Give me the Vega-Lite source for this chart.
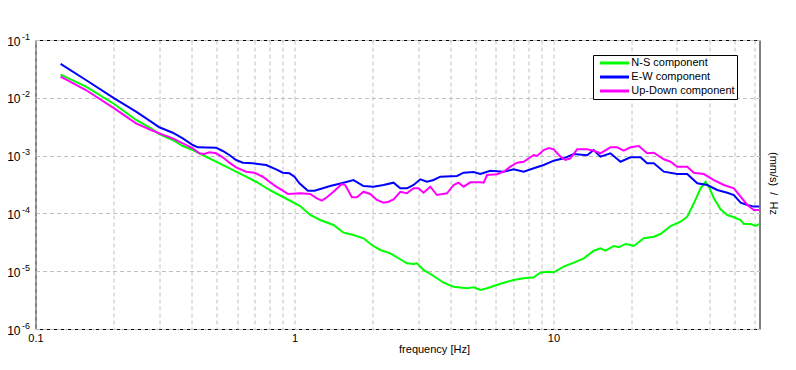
{
  "$schema": "https://vega.github.io/schema/vega-lite/v6.json",
  "width": 724,
  "height": 289,
  "autosize": {"type": "none"},
  "padding": {"left": 35.5, "top": 40, "right": 36.5, "bottom": 41},
  "background": "white",
  "config": {
    "view": {"stroke": "black", "strokeWidth": 1},
    "axis": {
      "labelFont": "Liberation Sans",
      "titleFont": "Liberation Sans",
      "labelColor": "black",
      "titleColor": "black",
      "domain": false,
      "ticks": false,
      "tickSize": 0,
      "gridColor": "#c0c0c0",
      "gridDash": [4, 3],
      "gridWidth": 1,
      "titleFontWeight": "normal"
    },
    "legend": {"labelFont": "Liberation Sans"}
  },
  "datasets": {
    "psd": [
      {"component": "N-S component", "frequency": 0.125, "value": 0.02511},
      {"component": "N-S component", "frequency": 0.1566, "value": 0.01556},
      {"component": "N-S component", "frequency": 0.2014, "value": 0.00781},
      {"component": "N-S component", "frequency": 0.2445, "value": 0.00413},
      {"component": "N-S component", "frequency": 0.2793, "value": 0.00297},
      {"component": "N-S component", "frequency": 0.3008, "value": 0.002364},
      {"component": "N-S component", "frequency": 0.3388, "value": 0.001862},
      {"component": "N-S component", "frequency": 0.3704, "value": 0.001466},
      {"component": "N-S component", "frequency": 0.4048, "value": 0.00125},
      {"component": "N-S component", "frequency": 0.4425, "value": 0.001024},
      {"component": "N-S component", "frequency": 0.4981, "value": 0.000784},
      {"component": "N-S component", "frequency": 0.5445, "value": 0.000643},
      {"component": "N-S component", "frequency": 0.5951, "value": 0.000527},
      {"component": "N-S component", "frequency": 0.6507, "value": 0.000431},
      {"component": "N-S component", "frequency": 0.7112, "value": 0.000353},
      {"component": "N-S component", "frequency": 0.8006, "value": 0.000254},
      {"component": "N-S component", "frequency": 0.8883, "value": 0.0002},
      {"component": "N-S component", "frequency": 1.052, "value": 0.000134},
      {"component": "N-S component", "frequency": 1.15, "value": 0.0000938},
      {"component": "N-S component", "frequency": 1.257, "value": 0.0000769},
      {"component": "N-S component", "frequency": 1.415, "value": 0.000063},
      {"component": "N-S component", "frequency": 1.547, "value": 0.0000464},
      {"component": "N-S component", "frequency": 1.691, "value": 0.0000423},
      {"component": "N-S component", "frequency": 1.848, "value": 0.0000371},
      {"component": "N-S component", "frequency": 1.991, "value": 0.0000284},
      {"component": "N-S component", "frequency": 2.145, "value": 0.0000233},
      {"component": "N-S component", "frequency": 2.344, "value": 0.0000204},
      {"component": "N-S component", "frequency": 2.563, "value": 0.0000161},
      {"component": "N-S component", "frequency": 2.719, "value": 0.0000137},
      {"component": "N-S component", "frequency": 2.884, "value": 0.0000133},
      {"component": "N-S component", "frequency": 2.972, "value": 0.0000137},
      {"component": "N-S component", "frequency": 3.152, "value": 0.0000105},
      {"component": "N-S component", "frequency": 3.446, "value": 0.00000826},
      {"component": "N-S component", "frequency": 3.767, "value": 0.00000632},
      {"component": "N-S component", "frequency": 4.117, "value": 0.00000539},
      {"component": "N-S component", "frequency": 4.638, "value": 0.00000506},
      {"component": "N-S component", "frequency": 4.92, "value": 0.00000526},
      {"component": "N-S component", "frequency": 5.222, "value": 0.00000473},
      {"component": "N-S component", "frequency": 5.542, "value": 0.00000506},
      {"component": "N-S component", "frequency": 5.877, "value": 0.00000555},
      {"component": "N-S component", "frequency": 6.426, "value": 0.00000632},
      {"component": "N-S component", "frequency": 7.024, "value": 0.00000704},
      {"component": "N-S component", "frequency": 7.679, "value": 0.00000754},
      {"component": "N-S component", "frequency": 8.394, "value": 0.00000784},
      {"component": "N-S component", "frequency": 8.907, "value": 0.00000942},
      {"component": "N-S component", "frequency": 9.454, "value": 0.0000098},
      {"component": "N-S component", "frequency": 10.03, "value": 0.00000957},
      {"component": "N-S component", "frequency": 10.96, "value": 0.00001197},
      {"component": "N-S component", "frequency": 11.98, "value": 0.00001403},
      {"component": "N-S component", "frequency": 13.1, "value": 0.0000167},
      {"component": "N-S component", "frequency": 14.31, "value": 0.0000226},
      {"component": "N-S component", "frequency": 15.19, "value": 0.0000249},
      {"component": "N-S component", "frequency": 15.89, "value": 0.0000226},
      {"component": "N-S component", "frequency": 17.11, "value": 0.0000273},
      {"component": "N-S component", "frequency": 17.88, "value": 0.0000259},
      {"component": "N-S component", "frequency": 18.98, "value": 0.0000296},
      {"component": "N-S component", "frequency": 19.84, "value": 0.0000284},
      {"component": "N-S component", "frequency": 20.44, "value": 0.0000273},
      {"component": "N-S component", "frequency": 22.34, "value": 0.0000371},
      {"component": "N-S component", "frequency": 24.42, "value": 0.0000395},
      {"component": "N-S component", "frequency": 25.92, "value": 0.000044},
      {"component": "N-S component", "frequency": 28.34, "value": 0.0000605},
      {"component": "N-S component", "frequency": 30.97, "value": 0.0000719},
      {"component": "N-S component", "frequency": 32.87, "value": 0.0000877},
      {"component": "N-S component", "frequency": 34.86, "value": 0.0001495},
      {"component": "N-S component", "frequency": 37.01, "value": 0.000272},
      {"component": "N-S component", "frequency": 38.7, "value": 0.000353},
      {"component": "N-S component", "frequency": 39.84, "value": 0.00029},
      {"component": "N-S component", "frequency": 41.65, "value": 0.000182},
      {"component": "N-S component", "frequency": 44.21, "value": 0.0001177},
      {"component": "N-S component", "frequency": 46.93, "value": 0.0000938},
      {"component": "N-S component", "frequency": 49.77, "value": 0.0000856},
      {"component": "N-S component", "frequency": 52.83, "value": 0.0000769},
      {"component": "N-S component", "frequency": 54.4, "value": 0.0000656},
      {"component": "N-S component", "frequency": 57.74, "value": 0.0000656},
      {"component": "N-S component", "frequency": 60.37, "value": 0.0000605},
      {"component": "N-S component", "frequency": 62.5, "value": 0.0000656},

      {"component": "E-W component", "frequency": 0.125, "value": 0.0385},
      {"component": "E-W component", "frequency": 0.1566, "value": 0.0203},
      {"component": "E-W component", "frequency": 0.2014, "value": 0.0098},
      {"component": "E-W component", "frequency": 0.2445, "value": 0.00575},
      {"component": "E-W component", "frequency": 0.2793, "value": 0.00386},
      {"component": "E-W component", "frequency": 0.3008, "value": 0.00309},
      {"component": "E-W component", "frequency": 0.3388, "value": 0.00249},
      {"component": "E-W component", "frequency": 0.3704, "value": 0.00199},
      {"component": "E-W component", "frequency": 0.4048, "value": 0.001525},
      {"component": "E-W component", "frequency": 0.4232, "value": 0.001392},
      {"component": "E-W component", "frequency": 0.4981, "value": 0.00137},
      {"component": "E-W component", "frequency": 0.5288, "value": 0.001201},
      {"component": "E-W component", "frequency": 0.5607, "value": 0.001024},
      {"component": "E-W component", "frequency": 0.5951, "value": 0.000839},
      {"component": "E-W component", "frequency": 0.6318, "value": 0.000754},
      {"component": "E-W component", "frequency": 0.6906, "value": 0.000736},
      {"component": "E-W component", "frequency": 0.7774, "value": 0.000688},
      {"component": "E-W component", "frequency": 0.8497, "value": 0.000579},
      {"component": "E-W component", "frequency": 0.9018, "value": 0.000506},
      {"component": "E-W component", "frequency": 0.9565, "value": 0.000494},
      {"component": "E-W component", "frequency": 1.0, "value": 0.000431},
      {"component": "E-W component", "frequency": 1.0455, "value": 0.000332},
      {"component": "E-W component", "frequency": 1.127, "value": 0.000247},
      {"component": "E-W component", "frequency": 1.195, "value": 0.000247},
      {"component": "E-W component", "frequency": 1.221, "value": 0.000254},
      {"component": "E-W component", "frequency": 1.287, "value": 0.000272},
      {"component": "E-W component", "frequency": 1.374, "value": 0.000298},
      {"component": "E-W component", "frequency": 1.547, "value": 0.00034},
      {"component": "E-W component", "frequency": 1.691, "value": 0.000378},
      {"component": "E-W component", "frequency": 1.848, "value": 0.000298},
      {"component": "E-W component", "frequency": 2.02, "value": 0.00029},
      {"component": "E-W component", "frequency": 2.208, "value": 0.00031},
      {"component": "E-W component", "frequency": 2.413, "value": 0.00034},
      {"component": "E-W component", "frequency": 2.563, "value": 0.000272},
      {"component": "E-W component", "frequency": 2.719, "value": 0.000272},
      {"component": "E-W component", "frequency": 2.884, "value": 0.00031},
      {"component": "E-W component", "frequency": 3.062, "value": 0.000389},
      {"component": "E-W component", "frequency": 3.25, "value": 0.000353},
      {"component": "E-W component", "frequency": 3.446, "value": 0.000378},
      {"component": "E-W component", "frequency": 3.658, "value": 0.000431},
      {"component": "E-W component", "frequency": 4.243, "value": 0.000444},
      {"component": "E-W component", "frequency": 4.501, "value": 0.000506},
      {"component": "E-W component", "frequency": 4.92, "value": 0.00052},
      {"component": "E-W component", "frequency": 5.222, "value": 0.00048},
      {"component": "E-W component", "frequency": 5.707, "value": 0.000548},
      {"component": "E-W component", "frequency": 6.426, "value": 0.000527},
      {"component": "E-W component", "frequency": 7.024, "value": 0.000579},
      {"component": "E-W component", "frequency": 7.679, "value": 0.000527},
      {"component": "E-W component", "frequency": 8.394, "value": 0.000603},
      {"component": "E-W component", "frequency": 9.174, "value": 0.000688},
      {"component": "E-W component", "frequency": 10.03, "value": 0.000816},
      {"component": "E-W component", "frequency": 10.96, "value": 0.000898},
      {"component": "E-W component", "frequency": 11.98, "value": 0.001066},
      {"component": "E-W component", "frequency": 13.5, "value": 0.001012},
      {"component": "E-W component", "frequency": 14.31, "value": 0.00125},
      {"component": "E-W component", "frequency": 15.19, "value": 0.000957},
      {"component": "E-W component", "frequency": 16.61, "value": 0.001096},
      {"component": "E-W component", "frequency": 18.16, "value": 0.000784},
      {"component": "E-W component", "frequency": 19.84, "value": 0.000935},
      {"component": "E-W component", "frequency": 21.69, "value": 0.000935},
      {"component": "E-W component", "frequency": 23.02, "value": 0.000736},
      {"component": "E-W component", "frequency": 24.42, "value": 0.000736},
      {"component": "E-W component", "frequency": 26.69, "value": 0.000527},
      {"component": "E-W component", "frequency": 30.08, "value": 0.00048},
      {"component": "E-W component", "frequency": 32.87, "value": 0.00048},
      {"component": "E-W component", "frequency": 35.94, "value": 0.000332},
      {"component": "E-W component", "frequency": 39.28, "value": 0.00031},
      {"component": "E-W component", "frequency": 42.94, "value": 0.000254},
      {"component": "E-W component", "frequency": 46.93, "value": 0.000228},
      {"component": "E-W component", "frequency": 49.77, "value": 0.000208},
      {"component": "E-W component", "frequency": 52.83, "value": 0.000153},
      {"component": "E-W component", "frequency": 56.08, "value": 0.00014},
      {"component": "E-W component", "frequency": 59.47, "value": 0.000131},
      {"component": "E-W component", "frequency": 62.5, "value": 0.000131},

      {"component": "Up-Down component", "frequency": 0.125, "value": 0.02317},
      {"component": "Up-Down component", "frequency": 0.1566, "value": 0.01364},
      {"component": "Up-Down component", "frequency": 0.2014, "value": 0.00658},
      {"component": "Up-Down component", "frequency": 0.2445, "value": 0.00362},
      {"component": "Up-Down component", "frequency": 0.2793, "value": 0.00277},
      {"component": "Up-Down component", "frequency": 0.3008, "value": 0.00243},
      {"component": "Up-Down component", "frequency": 0.3388, "value": 0.00199},
      {"component": "Up-Down component", "frequency": 0.3704, "value": 0.001633},
      {"component": "Up-Down component", "frequency": 0.4048, "value": 0.001337},
      {"component": "Up-Down component", "frequency": 0.4293, "value": 0.001096},
      {"component": "Up-Down component", "frequency": 0.4489, "value": 0.001066},
      {"component": "Up-Down component", "frequency": 0.4694, "value": 0.00114},
      {"component": "Up-Down component", "frequency": 0.4981, "value": 0.001096},
      {"component": "Up-Down component", "frequency": 0.5288, "value": 0.000935},
      {"component": "Up-Down component", "frequency": 0.5607, "value": 0.000754},
      {"component": "Up-Down component", "frequency": 0.5951, "value": 0.000627},
      {"component": "Up-Down component", "frequency": 0.6507, "value": 0.000527},
      {"component": "Up-Down component", "frequency": 0.7005, "value": 0.000506},
      {"component": "Up-Down component", "frequency": 0.7546, "value": 0.000431},
      {"component": "Up-Down component", "frequency": 0.8006, "value": 0.000353},
      {"component": "Up-Down component", "frequency": 0.8497, "value": 0.00029},
      {"component": "Up-Down component", "frequency": 0.9018, "value": 0.000247},
      {"component": "Up-Down component", "frequency": 0.943, "value": 0.000217},
      {"component": "Up-Down component", "frequency": 1.052, "value": 0.000223},
      {"component": "Up-Down component", "frequency": 1.15, "value": 0.000217},
      {"component": "Up-Down component", "frequency": 1.221, "value": 0.000182},
      {"component": "Up-Down component", "frequency": 1.276, "value": 0.000166},
      {"component": "Up-Down component", "frequency": 1.334, "value": 0.00019},
      {"component": "Up-Down component", "frequency": 1.415, "value": 0.000237},
      {"component": "Up-Down component", "frequency": 1.525, "value": 0.000323},
      {"component": "Up-Down component", "frequency": 1.57, "value": 0.00031},
      {"component": "Up-Down component", "frequency": 1.667, "value": 0.00019},
      {"component": "Up-Down component", "frequency": 1.743, "value": 0.00019},
      {"component": "Up-Down component", "frequency": 1.848, "value": 0.000237},
      {"component": "Up-Down component", "frequency": 1.961, "value": 0.000217},
      {"component": "Up-Down component", "frequency": 2.082, "value": 0.000171},
      {"component": "Up-Down component", "frequency": 2.208, "value": 0.000153},
      {"component": "Up-Down component", "frequency": 2.309, "value": 0.000159},
      {"component": "Up-Down component", "frequency": 2.413, "value": 0.000175},
      {"component": "Up-Down component", "frequency": 2.563, "value": 0.000237},
      {"component": "Up-Down component", "frequency": 2.719, "value": 0.000223},
      {"component": "Up-Down component", "frequency": 2.884, "value": 0.000272},
      {"component": "Up-Down component", "frequency": 3.015, "value": 0.000272},
      {"component": "Up-Down component", "frequency": 3.152, "value": 0.000228},
      {"component": "Up-Down component", "frequency": 3.346, "value": 0.00029},
      {"component": "Up-Down component", "frequency": 3.551, "value": 0.000208},
      {"component": "Up-Down component", "frequency": 3.882, "value": 0.000223},
      {"component": "Up-Down component", "frequency": 4.117, "value": 0.00031},
      {"component": "Up-Down component", "frequency": 4.304, "value": 0.00034},
      {"component": "Up-Down component", "frequency": 4.501, "value": 0.00029},
      {"component": "Up-Down component", "frequency": 4.777, "value": 0.000345},
      {"component": "Up-Down component", "frequency": 5.222, "value": 0.000345},
      {"component": "Up-Down component", "frequency": 5.378, "value": 0.00034},
      {"component": "Up-Down component", "frequency": 5.542, "value": 0.000462},
      {"component": "Up-Down component", "frequency": 6.059, "value": 0.000475},
      {"component": "Up-Down component", "frequency": 6.426, "value": 0.000527},
      {"component": "Up-Down component", "frequency": 6.821, "value": 0.000643},
      {"component": "Up-Down component", "frequency": 7.24, "value": 0.000754},
      {"component": "Up-Down component", "frequency": 7.679, "value": 0.000784},
      {"component": "Up-Down component", "frequency": 8.149, "value": 0.000935},
      {"component": "Up-Down component", "frequency": 8.394, "value": 0.001024},
      {"component": "Up-Down component", "frequency": 8.65, "value": 0.000984},
      {"component": "Up-Down component", "frequency": 9.174, "value": 0.00125},
      {"component": "Up-Down component", "frequency": 9.59, "value": 0.001354},
      {"component": "Up-Down component", "frequency": 10.03, "value": 0.001285},
      {"component": "Up-Down component", "frequency": 10.64, "value": 0.000957},
      {"component": "Up-Down component", "frequency": 11.13, "value": 0.000839},
      {"component": "Up-Down component", "frequency": 11.63, "value": 0.000898},
      {"component": "Up-Down component", "frequency": 12.35, "value": 0.001285},
      {"component": "Up-Down component", "frequency": 13.5, "value": 0.001285},
      {"component": "Up-Down component", "frequency": 14.31, "value": 0.001216},
      {"component": "Up-Down component", "frequency": 15.19, "value": 0.001096},
      {"component": "Up-Down component", "frequency": 16.61, "value": 0.001392},
      {"component": "Up-Down component", "frequency": 17.63, "value": 0.001392},
      {"component": "Up-Down component", "frequency": 18.7, "value": 0.001216},
      {"component": "Up-Down component", "frequency": 19.84, "value": 0.001392},
      {"component": "Up-Down component", "frequency": 21.37, "value": 0.001466},
      {"component": "Up-Down component", "frequency": 23.02, "value": 0.001096},
      {"component": "Up-Down component", "frequency": 24.42, "value": 0.001123},
      {"component": "Up-Down component", "frequency": 26.69, "value": 0.000863},
      {"component": "Up-Down component", "frequency": 28.34, "value": 0.000784},
      {"component": "Up-Down component", "frequency": 30.08, "value": 0.000643},
      {"component": "Up-Down component", "frequency": 32.87, "value": 0.000643},
      {"component": "Up-Down component", "frequency": 34.86, "value": 0.000506},
      {"component": "Up-Down component", "frequency": 38.11, "value": 0.00048},
      {"component": "Up-Down component", "frequency": 41.65, "value": 0.000378},
      {"component": "Up-Down component", "frequency": 45.53, "value": 0.00031},
      {"component": "Up-Down component", "frequency": 49.77, "value": 0.000272},
      {"component": "Up-Down component", "frequency": 52.83, "value": 0.000195},
      {"component": "Up-Down component", "frequency": 56.08, "value": 0.00014},
      {"component": "Up-Down component", "frequency": 59.47, "value": 0.0001145},
      {"component": "Up-Down component", "frequency": 62.5, "value": 0.0001145}
    ],
    "exponents": [
      {"value": 0.1, "e": "-1"},
      {"value": 0.01, "e": "-2"},
      {"value": 0.001, "e": "-3"},
      {"value": 0.0001, "e": "-4"},
      {"value": 0.00001, "e": "-5"},
      {"value": 0.000001, "e": "-6"}
    ]
  },
  "layer": [
    {
      "data": {"name": "psd"},
      "mark": {"type": "line", "strokeWidth": 2, "clip": true},
      "encoding": {
        "x": {
          "field": "frequency",
          "type": "quantitative",
          "scale": {"type": "log", "domain": [0.1, 62.5], "nice": false},
          "axis": {
            "values": [0.1, 0.2, 0.3, 0.4, 0.5, 0.6, 0.7, 0.8, 0.9, 1, 2, 3, 4, 5, 6, 7, 8, 9, 10, 20, 30, 40, 50, 60],
            "labelExpr": "datum.value == 0.1 ? '0.1' : datum.value == 1 ? '1' : datum.value == 10 ? '10' : ''",
            "labelFontSize": 11,
            "labelPadding": 3,
            "labelFlush": false,
            "labelOverlap": false,
            "labelBound": false,
            "title": "frequency [Hz]",
            "titleFontSize": 11,
            "titleX": 398.5,
            "titleY": 23.5,
            "titleBaseline": "alphabetic",
            "titleAlign": "center",
            "grid": true
          }
        },
        "y": {
          "field": "value",
          "type": "quantitative",
          "scale": {"type": "log", "domain": [0.000001, 0.1], "nice": false},
          "axis": {
            "values": [0.000001, 0.00001, 0.0001, 0.001, 0.01, 0.1],
            "labelExpr": "'10'",
            "labelFontSize": 12,
            "labelPadding": 15.5,
            "labelOffset": 1,
            "labelFlush": false,
            "labelOverlap": false,
            "labelBound": false,
            "title": "(mm/s)\u00a0\u00a0/\u00a0\u00a0Hz",
            "titleFontSize": 11,
            "titleAngle": 90,
            "titleX": 736.5,
            "titleY": 143,
            "titleAlign": "center",
            "titleBaseline": "middle",
            "grid": true
          }
        },
        "color": {
          "field": "component",
          "type": "nominal",
          "sort": ["N-S component", "E-W component", "Up-Down component"],
          "scale": {
            "domain": ["N-S component", "E-W component", "Up-Down component"],
            "range": ["#00ff00", "#0000ff", "#ff00ff"]
          },
          "legend": {
            "orient": "none",
            "legendX": 557.5,
            "legendY": 15,
            "title": null,
            "symbolType": "M-2.9,0H2.9",
            "symbolSize": 100,
            "symbolStrokeWidth": 3,
            "symbolOffset": 13.5,
            "labelOffset": 10.3,
            "labelFontSize": 11,
            "labelColor": "black",
            "labelBaseline": "middle",
            "labelExpr": "datum.label + '\u00a0\u00a0\u00a0'",
            "padding": 1.5,
            "rowPadding": 1,
            "fillColor": "white",
            "strokeColor": "black",
            "cornerRadius": 0
          }
        }
      }
    },
    {
      "data": {"name": "exponents"},
      "mark": {"type": "text", "align": "left", "baseline": "middle", "dx": -13.5, "dy": -3.5, "fontSize": 9, "font": "Liberation Sans", "color": "black"},
      "encoding": {
        "x": {"datum": 0.1, "type": "quantitative"},
        "y": {"field": "value", "type": "quantitative"},
        "text": {"field": "e"}
      }
    }
  ]
}
